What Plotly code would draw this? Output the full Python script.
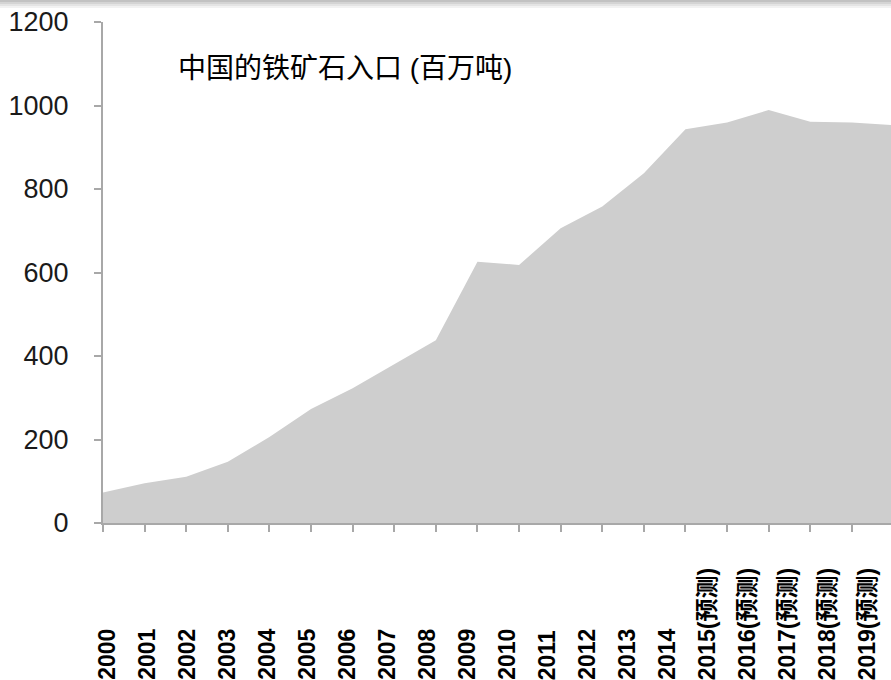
import plotly.graph_objects as go

# China iron ore imports, million tonnes (2015 onward are forecasts)
years = ["2000", "2001", "2002", "2003", "2004", "2005", "2006", "2007",
         "2008", "2009", "2010", "2011", "2012", "2013", "2014",
         "2015(预测)", "2016(预测)", "2017(预测)", "2018(预测)", "2019(预测)"]
imports = [73, 95, 111, 147, 206, 273, 323, 381,
           438, 626, 618, 706, 758, 838, 943,
           959, 989, 961, 959, 953]
y_ticks = [0, 200, 400, 600, 800, 1000, 1200]
title_text = "中国的铁矿石入口 (百万吨)"

AXIS_GREY = "#a8a8a8"
FILL_GREY = "#cecece"

fig = go.Figure()

fig.add_trace(go.Scatter(
    x=years,
    y=imports,
    mode="lines",
    line=dict(width=0, color=FILL_GREY),
    fill="tozeroy",
    fillcolor=FILL_GREY,
    hoverinfo="x+y",
    showlegend=False,
))

# Invisible helper trace so the label axis knows its categories
fig.add_trace(go.Scatter(
    x=years,
    y=[None] * len(years),
    xaxis="x2",
    mode="lines",
    hoverinfo="skip",
    showlegend=False,
))

# Year labels, read bottom-to-top and aligned along the lower edge.
# Positions are category indices on the label axis.
for i, yr in enumerate(years):
    fig.add_annotation(
        x=i, xref="x2",
        y=-0.318, yref="paper",
        text=yr,
        textangle=-90,
        showarrow=False,
        xanchor="center",
        yanchor="bottom",
        font=dict(family="Liberation Sans, Arial, Noto Sans CJK SC",
                  size=23, color="#000000", weight="bold"),
    )

fig.add_annotation(
    x=0.093, xref="paper",
    y=0.908, yref="paper",
    text=title_text,
    showarrow=False,
    xanchor="left",
    yanchor="middle",
    font=dict(family="Liberation Sans, Noto Sans CJK SC", size=28,
              color="#000000"),
)

# Soft grey shading along the top edge of the page
for y0, y1, col in [(0, 2, "#c2c2c2"), (2, 4, "#d4d4d4"),
                    (4, 6, "#e4e4e4"), (6, 8, "#f2f2f2")]:
    fig.add_shape(
        type="rect", xref="paper", yref="paper",
        x0=-0.2, x1=1.0,
        y0=1 + (22 - y1) / 501, y1=1 + (22 - y0) / 501,
        line=dict(width=0), fillcolor=col, layer="above",
    )

fig.update_layout(
    width=891,
    height=680,
    margin=dict(l=103, r=0, t=22, b=157),
    paper_bgcolor="#ffffff",
    plot_bgcolor="#ffffff",
    xaxis=dict(
        type="category",
        categoryorder="array",
        categoryarray=years,
        range=[0, 18.94],
        showgrid=False,
        zeroline=False,
        showline=True,
        linecolor=AXIS_GREY,
        linewidth=2,
        ticks="outside",
        ticklen=7,
        tickwidth=2,
        tickcolor=AXIS_GREY,
        showticklabels=False,
    ),
    xaxis2=dict(
        type="category",
        categoryorder="array",
        categoryarray=years,
        overlaying="x",
        range=[-0.1, 19.6],
        visible=False,
    ),
    yaxis=dict(
        range=[0, 1200],
        tickvals=y_ticks,
        showgrid=False,
        zeroline=False,
        showline=True,
        linecolor=AXIS_GREY,
        linewidth=2,
        ticks="outside",
        ticklen=7,
        tickwidth=2,
        tickcolor=AXIS_GREY,
        ticklabelstandoff=20,
        tickfont=dict(family="Liberation Sans, Arial", size=27,
                      color="#1a1a1a"),
    ),
)

fig.write_html("out.html")
